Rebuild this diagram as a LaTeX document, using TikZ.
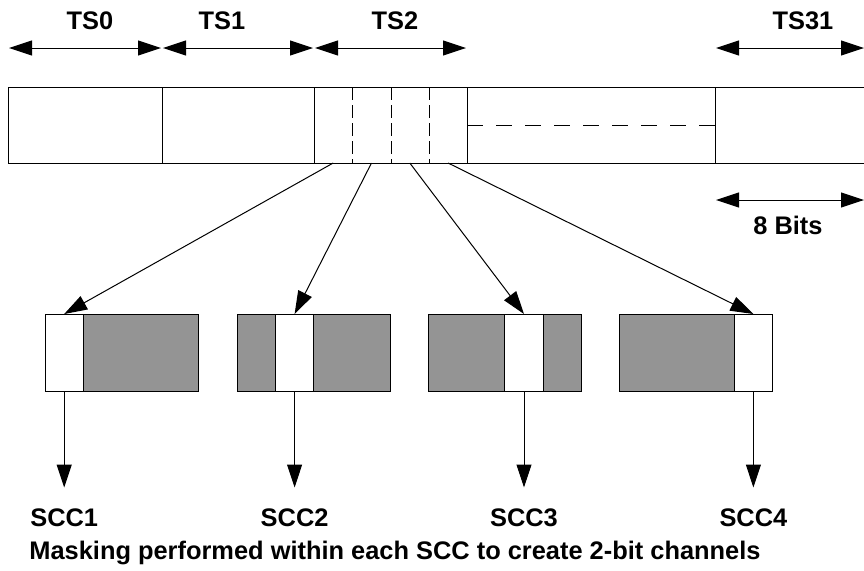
\documentclass[tikz,border=0pt]{standalone}
\usepackage{fontspec}
\setmainfont{Liberation Sans}
\usetikzlibrary{arrows.meta}

\tikzset{
  lbl/.style={font=\fontsize{12.7}{14}\selectfont\bfseries, inner sep=0pt},
  span/.style={{Triangle[length=11.5pt,width=7.5pt]}-{Triangle[length=11.5pt,width=7.5pt]}},
  feed/.style={-{Triangle[length=11.5pt,width=7.5pt]}},
  bitcell/.style={minimum width=19.2pt, minimum height=38pt, inner sep=0pt, outer sep=0pt},
  clearbit/.style={bitcell, draw, fill=white},
  maskfill/.style={draw, fill=black!42}
}

\begin{document}
\begin{tikzpicture}[x=0.5pt, y=-0.5pt, line width=0.5pt]
\useasboundingbox (0,0) rectangle (864,570);

% frame of 32 time slots
\draw (864,87) -- (8,87) -- (8,163) -- (864,163);
\foreach \x in {162,314,467,715}
  \draw (\x,87) -- (\x,163);
\begin{scope}[dash pattern=on 6.5pt off 2.5pt]
\foreach \x in {352,391,429}
  \draw (\x,87) -- (\x,163);
\end{scope}
\draw [dash pattern=on 8pt off 6.5pt] (467,125) -- (715,125);

% bit pairs inside TS2
\foreach \i/\x in {1/333.2, 2/371.5, 3/409.8, 4/448.1}
  \node [bitcell] (b\i) at (\x,125) {};

% slot widths
\node [lbl] (ts0) at (90,21) {TS0};
\node [lbl] (ts1) at (222,21) {TS1};
\node [lbl] (ts2) at (395,21) {TS2};
\node [lbl] (ts31) at (803,21) {TS31};
\node [lbl] (bits) at (788,225) {8 Bits};

\coordinate (s0) at (9,48);
\coordinate (s1) at (161,48);
\coordinate (s1r) at (163,48);
\coordinate (s2) at (313,48);
\coordinate (s2r) at (315,48);
\coordinate (s3) at (466,48);
\coordinate (s31) at (716,48);
\coordinate (s32) at (864,48);
\coordinate (e0) at (716,200);
\coordinate (e1) at (864,200);

\begin{scope}[span]
\draw (s0) -- (s1);
\draw (s1r) -- (s2);
\draw (s2r) -- (s3);
\draw (s31) -- (s32);
\draw (e0) -- (e1);
\end{scope}

% one SCC per bit pair, other bits masked
\foreach \i/\bx in {1/45, 2/237, 3/428, 4/619} {
  \draw [maskfill] (\bx,314) rectangle ++(153.6,77);
  \node [clearbit, minimum height=38.5pt] (w\i) at (\bx+\i*38.4-19.2,352.5) {};
  \node [lbl] (scc\i) at (\bx+\i*38.4-19.2,518) {SCC\i};
}

\begin{scope}[feed]
\foreach \i in {1,...,4} {
  \draw (b\i.south) -- (w\i.north);
  \draw [shorten >=10.5pt] (w\i.south) -- (scc\i.north);
}
\end{scope}

\node [lbl] (note) at (395,553) {Masking performed within each SCC to create 2-bit channels};

\end{tikzpicture}
\end{document}
